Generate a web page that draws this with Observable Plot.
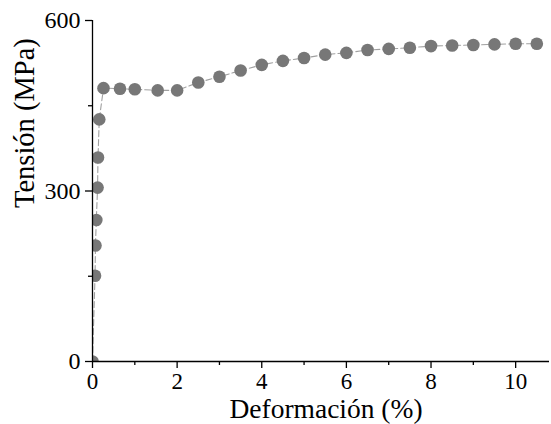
<!DOCTYPE html>
<html>
<head>
<meta charset="utf-8">
<script src="https://cdn.jsdelivr.net/npm/d3@7"></script>
<script src="https://cdn.jsdelivr.net/npm/@observablehq/plot@0.6"></script>
<style>
  html, body { margin: 0; padding: 0; background: #fff; }
</style>
</head>
<body>
<div id="chart"></div>
<script>
// Data (strain %, stress MPa)
const strain = [0, 0.06, 0.07, 0.09, 0.12, 0.13, 0.16, 0.26, 0.65, 1.0, 1.54, 2.0, 2.5, 3.0, 3.5, 4.0, 4.5, 5.0, 5.5, 6.0, 6.5, 7.0, 7.5, 8.0, 8.5, 9.0, 9.5, 10.0, 10.5];
const stress = [0, 151, 204, 249, 306, 359, 426, 481, 480, 479, 477, 477, 491, 501, 512, 522, 529, 534, 540, 543, 548, 550, 552, 555, 556, 557, 558, 559, 559];
const xMajorTicks = [0, 2, 4, 6, 8, 10];
const xMinorTicks = [1, 3, 5, 7, 9];
const yMajorTicks = [0, 300, 600];
const yMinorTicks = [150, 450];
const xTitle = "Deformación (%)";
const yTitle = "Tensión (MPa)";

const data = strain.map((s, i) => ({strain: s, stress: stress[i]}));

const chart = Plot.plot({
  width: 551,
  height: 424,
  marginLeft: 92,
  marginTop: 20,
  marginRight: 2,
  marginBottom: 63,
  style: {fontFamily: "'Liberation Serif', 'Times New Roman', serif", fontSize: "24px", color: "#000", background: "#fff"},
  x: {domain: [0, 10.8]},
  y: {domain: [0, 600]},
  marks: [
    Plot.line(data, {x: "strain", y: "stress", stroke: "#a0a0a0", strokeWidth: 1.1, strokeDasharray: "6,3", clip: true}),
    Plot.dot(data, {x: "strain", y: "stress", r: 6.3, fill: "#777777", stroke: "none", clip: true}),
    Plot.ruleY([0], {stroke: "#000", strokeWidth: 1.3}),
    Plot.ruleX([0], {stroke: "#000", strokeWidth: 1.3}),
    Plot.axisX({ticks: xMajorTicks, tickSize: 7, tickPadding: 4, strokeWidth: 1.3, fontSize: 23, label: null}),
    Plot.axisX({ticks: xMinorTicks, tickSize: 4, tickFormat: () => "", strokeWidth: 1.3, label: null}),
    Plot.axisY({ticks: yMajorTicks, tickSize: 7, tickPadding: 5, strokeWidth: 1.3, fontSize: 24, label: null}),
    Plot.axisY({ticks: yMinorTicks, tickSize: 4, tickFormat: () => "", strokeWidth: 1.3, label: null}),
    Plot.text([xTitle], {frameAnchor: "bottom", lineAnchor: "bottom", dy: 56, dx: 5, fontSize: 27.5, fill: "#000"}),
    Plot.text([yTitle], {frameAnchor: "left", lineAnchor: "bottom", rotate: -90, dx: -59, dy: 17, fontSize: 28.5, fill: "#000"})
  ]
});
document.getElementById("chart").appendChild(chart);
</script>
</body>
</html>
